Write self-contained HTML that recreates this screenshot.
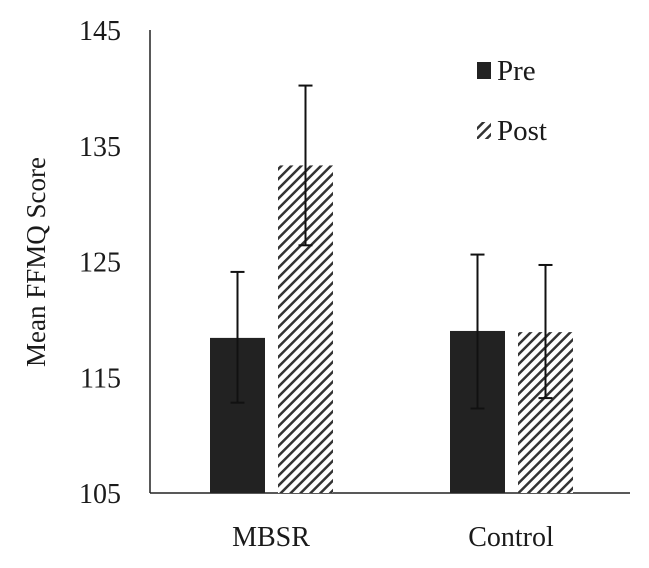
<!DOCTYPE html>
<html><head><meta charset="utf-8"><style>
html,body{margin:0;padding:0;background:#fff}
svg text{font-family:"Liberation Serif",serif;fill:#1a1a1a}
</style></head><body>
<svg width="649" height="563" viewBox="0 0 649 563">
<defs>
<pattern id="hatch" patternUnits="userSpaceOnUse" width="7" height="7" patternTransform="rotate(45)">
<rect width="7" height="7" fill="#fff"/>
<rect x="0" y="0" width="2.5" height="7" fill="#333"/>
</pattern>
</defs>
<g id="plot"></g>
</svg>
<script>
const categories=["MBSR","Control"];
const preValues=[118.4,119.0];
const postValues=[133.3,118.9];
const preErrHigh=[124.1,125.6];
const preErrLow=[112.8,112.3];
const postErrHigh=[140.2,124.7];
const postErrLow=[126.4,113.2];
const yTicks=[105,115,125,135,145];
const NS='http://www.w3.org/2000/svg';
const g=document.getElementById('plot');
const y0=493,y1=30,vmin=105,vmax=145;
function y(v){return y0-(v-vmin)/(vmax-vmin)*(y0-y1);}
const centers=[271,511];
function el(t,a){const e=document.createElementNS(NS,t);for(const k in a)e.setAttribute(k,a[k]);g.appendChild(e);return e;}
const ax=el('line',{x1:150,y1:y1,x2:150,y2:y0,stroke:'#222','stroke-width':1.5});


const xa=el('line',{x1:150,y1:y0,x2:630,y2:y0,stroke:'#222','stroke-width':1.5});


yTicks.forEach(v=>{
 const t=el('text',{x:121,y:y(v)+10,'text-anchor':'end','font-size':28});
 t.textContent=v;
 
 
});
const yt=el('text',{x:0,y:0,'text-anchor':'middle','font-size':27,transform:'translate(45,262) rotate(-90)'});
yt.textContent='Mean FFMQ Score';


function errbar(cx,hi,lo,name){
 const gg=[el('line',{x1:cx,y1:y(hi),x2:cx,y2:y(lo),stroke:'#111','stroke-width':2}),
 el('line',{x1:cx-7,y1:y(hi),x2:cx+7,y2:y(hi),stroke:'#111','stroke-width':2}),
 el('line',{x1:cx-7,y1:y(lo),x2:cx+7,y2:y(lo),stroke:'#111','stroke-width':2})];
 gg.forEach(e=>{});
}
categories.forEach((c,i)=>{
 const cx=centers[i],w=55;
 const pb=el('rect',{x:cx-61,y:y(preValues[i]),width:w,height:y0-y(preValues[i]),fill:'#222'});
 
 
 const qb=el('rect',{x:cx+7,y:y(postValues[i]),width:w,height:y0-y(postValues[i]),fill:'url(#hatch)'});
 
 
 errbar(cx-33.5,preErrHigh[i],preErrLow[i],'error-bar-pre');
 errbar(cx+34.5,postErrHigh[i],postErrLow[i],'error-bar-post');
 const t=el('text',{x:cx,y:546,'text-anchor':'middle','font-size':28});
 t.textContent=c;
 
 
});
const l1=el('rect',{x:477,y:62,width:14,height:17,fill:'#222'});


const lt1=el('text',{x:497,y:80,'font-size':29});
lt1.textContent='Pre';


const l2=el('rect',{x:477,y:122,width:14,height:17,fill:'url(#hatch)'});


const lt2=el('text',{x:497,y:140,'font-size':29});
lt2.textContent='Post';


</script>
</body></html>
